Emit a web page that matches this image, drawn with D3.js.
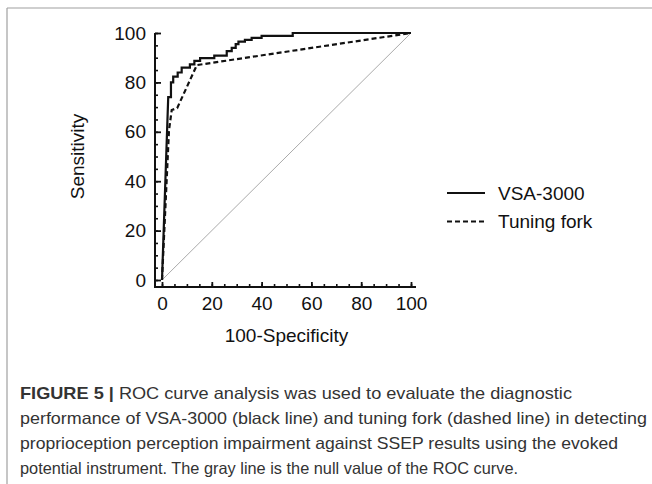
<!DOCTYPE html>
<html>
<head>
<meta charset="utf-8">
<script src="https://cdn.jsdelivr.net/npm/d3@7"></script>
<style>
  body { margin: 0; background: #fff; }
  svg { display: block; font-family: "Liberation Sans", Arial, sans-serif; }
</style>
</head>
<body>
<div id="chart"></div>
<script>
// ROC curves (x = 100-Specificity, y = Sensitivity)
const vsaX = [0, 2.5, 3.6, 3.6, 4.5, 4.5, 6.3, 6.3, 7.9, 7.9, 11.2, 11.2, 13, 13, 15.3, 15.3, 21, 21, 26, 26, 28, 28, 29.6, 29.6, 30.7, 30.7, 33.3, 33.3, 36, 36, 40, 40, 52.5, 52.5, 100];
const vsaY = [0, 74, 74, 80, 80, 82.3, 82.3, 84, 84, 86, 86, 87.3, 87.3, 88.7, 88.7, 89.8, 89.8, 90.8, 90.8, 92.7, 92.7, 94, 94, 95.5, 95.5, 96.5, 96.5, 97.2, 97.2, 98, 98, 98.8, 98.8, 100, 100];
const forkX = [0, 2.8, 3.9, 6.1, 14, 100];
const forkY = [0, 60.5, 68.8, 69.6, 87, 100];
const nullX = [0, 100];
const nullY = [0, 100];

const xTicks = [0, 20, 40, 60, 80, 100];
const yTicks = [0, 20, 40, 60, 80, 100];
const minorTicks = d3.range(0, 101, 5);
const legendLabels = ["VSA-3000", "Tuning fork"];

const captionLines = [
  ["FIGURE 5 |", " ROC curve analysis was used to evaluate the diagnostic"],
  ["", "performance of VSA-3000 (black line) and tuning fork (dashed line) in detecting"],
  ["", "proprioception perception impairment against SSEP results using the evoked"],
  ["", "potential instrument. The gray line is the null value of the ROC curve."]
];
const captionWidths = [552, 627, 598, 498];

const W = 652, H = 484;
const svg = d3.select("#chart").append("svg")
  .attr("width", W).attr("height", H);

// figure frame (top and left)
svg.append("line").attr("x1", 7).attr("x2", W).attr("y1", 8).attr("y2", 8)
  .attr("stroke", "#a0a0a0").attr("stroke-width", 1.2);
svg.append("line").attr("x1", 7).attr("x2", 7).attr("y1", 8).attr("y2", H)
  .attr("stroke", "#a0a0a0").attr("stroke-width", 1.2);

const x = d3.scaleLinear().domain([0, 100]).range([162, 411]);
const y = d3.scaleLinear().domain([0, 100]).range([280, 33]);
const axisX = 155, axisY = 287;

// minor ticks
svg.append("g").attr("transform", `translate(${axisX},0)`)
  .call(d3.axisLeft(y).tickValues(minorTicks).tickSize(-3).tickFormat(""))
  .call(g => g.select(".domain").remove())
  .selectAll("line").attr("stroke", "#111").attr("stroke-width", 1.6);
svg.append("g").attr("transform", `translate(0,${axisY})`)
  .call(d3.axisBottom(x).tickValues(minorTicks).tickSize(-3).tickFormat(""))
  .call(g => g.select(".domain").remove())
  .selectAll("line").attr("stroke", "#111").attr("stroke-width", 1.6);

// major ticks + labels
const yAx = svg.append("g").attr("transform", `translate(${axisX},0)`)
  .call(d3.axisLeft(y).tickValues(yTicks).tickSize(-6).tickPadding(9))
  .call(g => g.select(".domain").remove());
yAx.selectAll("line").attr("stroke", "#111").attr("stroke-width", 1.8);
yAx.selectAll("text").attr("font-size", 19).attr("fill", "#111")
  .attr("font-family", "Liberation Sans, Arial, sans-serif");

const xAx = svg.append("g").attr("transform", `translate(0,${axisY})`)
  .call(d3.axisBottom(x).tickValues(xTicks).tickSize(-5).tickPadding(10))
  .call(g => g.select(".domain").remove());
xAx.selectAll("line").attr("stroke", "#111").attr("stroke-width", 1.8);
xAx.selectAll("text").attr("font-size", 19).attr("fill", "#111")
  .attr("font-family", "Liberation Sans, Arial, sans-serif");

// axis lines
svg.append("line").attr("x1", axisX).attr("x2", axisX).attr("y1", y(100)).attr("y2", axisY + 1)
  .attr("stroke", "#111").attr("stroke-width", 2);
svg.append("line").attr("x1", axisX - 1).attr("x2", x(100) + 5).attr("y1", axisY).attr("y2", axisY)
  .attr("stroke", "#111").attr("stroke-width", 2);

// axis titles
svg.append("text").attr("transform", `translate(84,${y(50)}) rotate(-90)`)
  .attr("text-anchor", "middle").attr("font-size", 19).attr("fill", "#111")
  .text("Sensitivity");
svg.append("text").attr("x", x(50)).attr("y", 342)
  .attr("text-anchor", "middle").attr("font-size", 19).attr("fill", "#111")
  .text("100-Specificity");

const line = d3.line().x(d => x(d[0])).y(d => y(d[1]));

// null line
svg.append("path").datum(d3.zip(nullX, nullY)).attr("d", line)
  .attr("fill", "none").attr("stroke", "#aaa").attr("stroke-width", 1);
// tuning fork
svg.append("path").datum(d3.zip(forkX, forkY)).attr("d", line)
  .attr("fill", "none").attr("stroke", "#111").attr("stroke-width", 2.2)
  .attr("stroke-dasharray", "5,3");
// VSA-3000
svg.append("path").datum(d3.zip(vsaX, vsaY)).attr("d", line)
  .attr("fill", "none").attr("stroke", "#111").attr("stroke-width", 2.2);

// legend
const leg = svg.append("g");
legendLabels.forEach((lab, i) => {
  const ly = 193 + i * 28.4;
  leg.append("line").attr("x1", 447).attr("x2", 485).attr("y1", ly).attr("y2", ly)
    .attr("stroke", "#111").attr("stroke-width", 2)
    .attr("stroke-dasharray", i === 1 ? "5,3" : null);
  leg.append("text").attr("x", 498).attr("y", ly + 6.5)
    .attr("font-size", 19).attr("fill", "#111").text(lab);
});

// caption
captionLines.forEach((parts, i) => {
  const t = svg.append("text").attr("x", 20).attr("y", 399 + i * 25)
    .attr("font-size", 16.5).attr("fill", "#333")
    .attr("textLength", captionWidths[i]).attr("lengthAdjust", "spacingAndGlyphs");
  if (parts[0]) t.append("tspan").attr("font-weight", "bold").text(parts[0]);
  t.append("tspan").text(parts[1]);
});
</script>
</body>
</html>
